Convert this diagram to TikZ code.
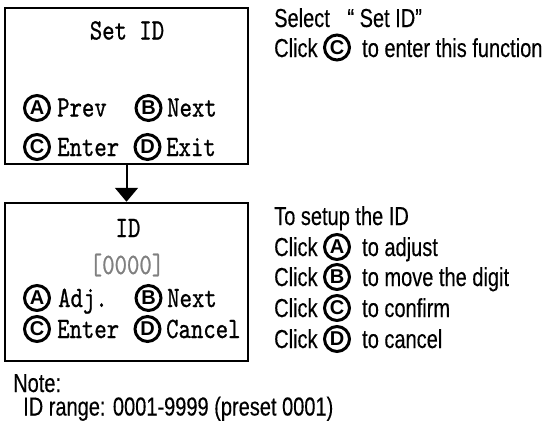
\documentclass[tikz,border=0pt]{standalone}
\usepackage{fontspec}
\usetikzlibrary{arrows.meta}
\setsansfont{Liberation Sans}
% condensed typewriter face for the LCD screens
\newfontfamily\lcdfont[FakeStretch=0.8,FakeBold=0.8]{lmmono10-regular.otf}
% narrow sans for the instructions
\newfontfamily\narrowsans[FakeStretch=0.77,FakeBold=0.3]{Liberation Sans}
\definecolor{dimgray}{HTML}{808080}
\tikzset{
  screen/.style={draw, line width=2.5pt, inner sep=0pt},
  lcd/.style={font=\lcdfont\fontsize{29.5}{31}\selectfont, inner sep=0pt, anchor=base west},
  lcdtitle/.style={lcd, anchor=base},
  instr/.style={font=\narrowsans\fontsize{26}{30}\selectfont, inner sep=0pt, anchor=base west},
  keybtn/.style={circle, draw, line width=3pt, minimum size=25pt, inner sep=0pt,
                 font=\sffamily\bfseries\fontsize{20}{20}\selectfont},
  flow/.style={line width=2pt, -{Triangle[width=23pt,length=14pt]}}
}
\begin{document}
\begin{tikzpicture}[x=1pt,y=-1pt]
\useasboundingbox (0,0) rectangle (556,421);

% --- screen 1: Set ID menu
\node[screen, minimum width=243pt, minimum height=156pt] (menu) at (126.5,86) {};
\node[lcdtitle] (menutitle) at (127,39.5) {Set ID};
\node[keybtn] (ma) at (37,108) {A};
\node[lcd] (mprev) at (57,116.5) {Prev};
\node[keybtn] (mb) at (148.5,108) {B};
\node[lcd] (mnext) at (167,116.5) {Next};
\node[keybtn] (mc) at (37,147) {C};
\node[lcd] (menter) at (57,156) {Enter};
\node[keybtn] (md) at (147.5,147) {D};
\node[lcd] (mexit) at (166,156) {Exit};

% --- screen 2: ID entry
\node[screen, minimum width=243pt, minimum height=158pt] (idbox) at (126.5,282) {};
\node[lcdtitle] (idtitle) at (128,237) {ID};
\node[lcdtitle, text=dimgray] (idvalue) at (127,274) {[0000]};
\node[keybtn] (ia) at (37,298) {A};
\node[lcd] (iadj) at (58,307) {Adj.};
\node[keybtn] (ib) at (148.5,298) {B};
\node[lcd] (inext) at (167,307) {Next};
\node[keybtn] (ic) at (37,329) {C};
\node[lcd] (ienter) at (57,338) {Enter};
\node[keybtn] (id) at (147.5,329) {D};
\node[lcd] (icancel) at (166,338) {Cancel};

\draw[flow] (menu.south) -- (idbox.north);

% --- instructions for screen 1
\node[instr] (sel) at (274,27) {Select\hspace{12pt} “ Set ID”};
\node[instr] (click1) at (274,57) {Click};
\node[keybtn] (kc1) at (337,47.5) {C};
\node[instr] (enterfn) at (362,57) {to enter this function};

% --- instructions for screen 2
\node[instr] (setup) at (274,225) {To setup the ID};
\node[instr] (clickA) at (274,256) {Click};
\node[keybtn] (kA) at (337,247) {A};
\node[instr] (tA) at (362,256) {to adjust};
\node[instr] (clickB) at (274,286) {Click};
\node[keybtn] (kB) at (337,277) {B};
\node[instr] (tB) at (362,286) {to move the digit};
\node[instr] (clickC) at (274,317) {Click};
\node[keybtn] (kC) at (337,308) {C};
\node[instr] (tC) at (362,317) {to confirm};
\node[instr] (clickD) at (274,348) {Click};
\node[keybtn] (kD) at (337,339) {D};
\node[instr] (tD) at (362,348) {to cancel};

% --- note
\node[instr] (note) at (13,392) {Note:};
\node[instr] (range) at (23,415.5) {ID range: 0001-9999 (preset 0001)};
\end{tikzpicture}
\end{document}
